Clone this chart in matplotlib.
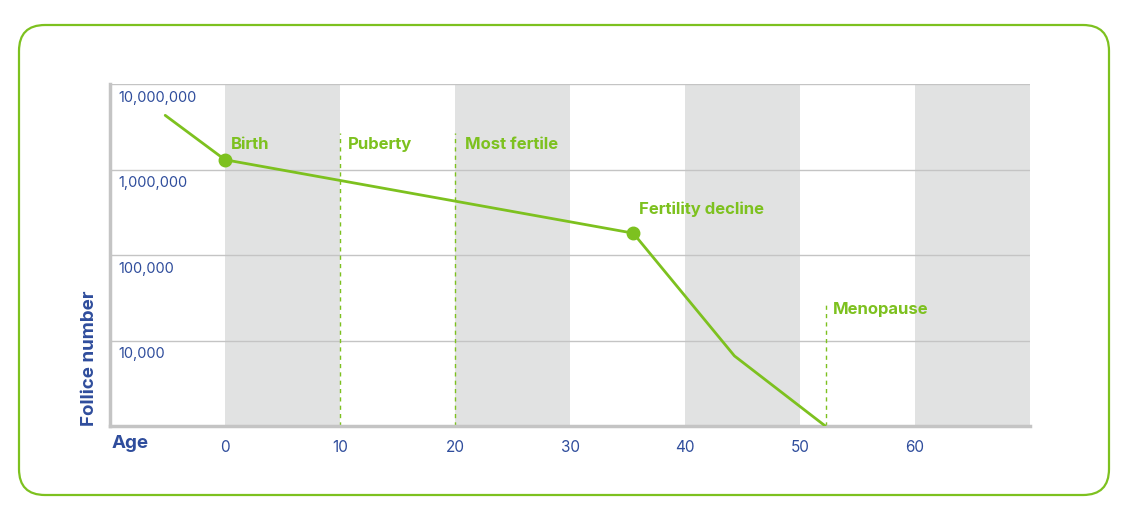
import matplotlib
matplotlib.use("Agg")
import matplotlib.pyplot as plt
from matplotlib.patches import FancyBboxPatch
from matplotlib.transforms import IdentityTransform
import numpy as np

plt.rcParams['font.family'] = ['Inter', 'DejaVu Sans']

# data
ages = [-5.2, 0, 35.5, 44.3, 52.2]
follicles = [4.3e6, 1.3e6, 1.8e5, 6.6e3, 1.0e3]
marker_ages = [0, 35.5]
marker_vals = [1.3e6, 1.8e5]

stage_names = ['Birth', 'Puberty', 'Most fertile', 'Fertility decline', 'Menopause']
stage_label_x = [0.5, 10.7, 20.9, 36.0, 52.9]
stage_label_y = [1.95e6, 1.95e6, 1.95e6, 3.4e5, 2.3e4]

stage_line_x = [10, 20, 52.3]
stage_line_top = [2.7e6, 2.7e6, 2.7e4]

bands = [(0, 10), (20, 30), (40, 50), (60, 70)]
xticks = [0, 10, 20, 30, 40, 50, 60]
yticks = [1e4, 1e5, 1e6, 1e7]
ytick_labels = ['10,000', '100,000', '1,000,000', '10,000,000']

green = '#7dc11f'
blue = '#2f4d9c'
gridc = '#c4c4c4'

fig = plt.figure(figsize=(11.41, 5.17), dpi=100)
ax = fig.add_axes([110/1141, 91/517, 920/1141, 342/517])

for a, b in bands:
    ax.axvspan(a, b, color='#e1e2e2', lw=0, zorder=0)

ax.set_yscale('log')
ax.set_xlim(-10, 70)
ax.set_ylim(1e3, 1e7)

for v in yticks:
    ax.axhline(v, color=gridc, lw=1, zorder=1)

for v, lab in zip(yticks, ytick_labels):
    ax.text(-9.3, v * 0.83, lab, color=blue, fontsize=10.5, va='top', ha='left')

for x, top in zip(stage_line_x, stage_line_top):
    ax.plot([x, x], [1e3, top], color=green, lw=1, ls=(0, (3, 3)), zorder=2)

ax.plot(ages, follicles, color=green, lw=2, zorder=3, solid_capstyle='round')
ax.plot(marker_ages, marker_vals, 'o', color=green, ms=9, zorder=4)

for name, x, y in zip(stage_names, stage_label_x, stage_label_y):
    ax.text(x, y, name, color=green, fontsize=12, fontweight='bold', va='center', ha='left')

ax.set_yticks([])
ax.set_xticks(xticks)
ax.set_xticklabels([str(t) for t in xticks], color=blue, fontsize=11)
ax.tick_params(axis='x', length=0, pad=10)
ax.minorticks_off()

for s in ['top', 'right']:
    ax.spines[s].set_visible(False)
ax.spines['left'].set_color(gridc)
ax.spines['left'].set_linewidth(2.5)
ax.spines['bottom'].set_color(gridc)
ax.spines['bottom'].set_linewidth(2.5)

fig.text(90/1141, 1 - 358/517, 'Follice number', rotation=90, color=blue,
         fontsize=13.5, fontweight='bold', ha='center', va='center')
fig.text(112/1141, 1 - 443/517, 'Age', color=blue, fontsize=13.5,
         fontweight='bold', ha='left', va='center')

box = FancyBboxPatch((19, 517 - 495), 1090, 470, boxstyle='round,pad=0,rounding_size=26',
                     transform=IdentityTransform(), facecolor='none', edgecolor=green, lw=1.6)
fig.add_artist(box)

fig.savefig('out.png', dpi=100)
